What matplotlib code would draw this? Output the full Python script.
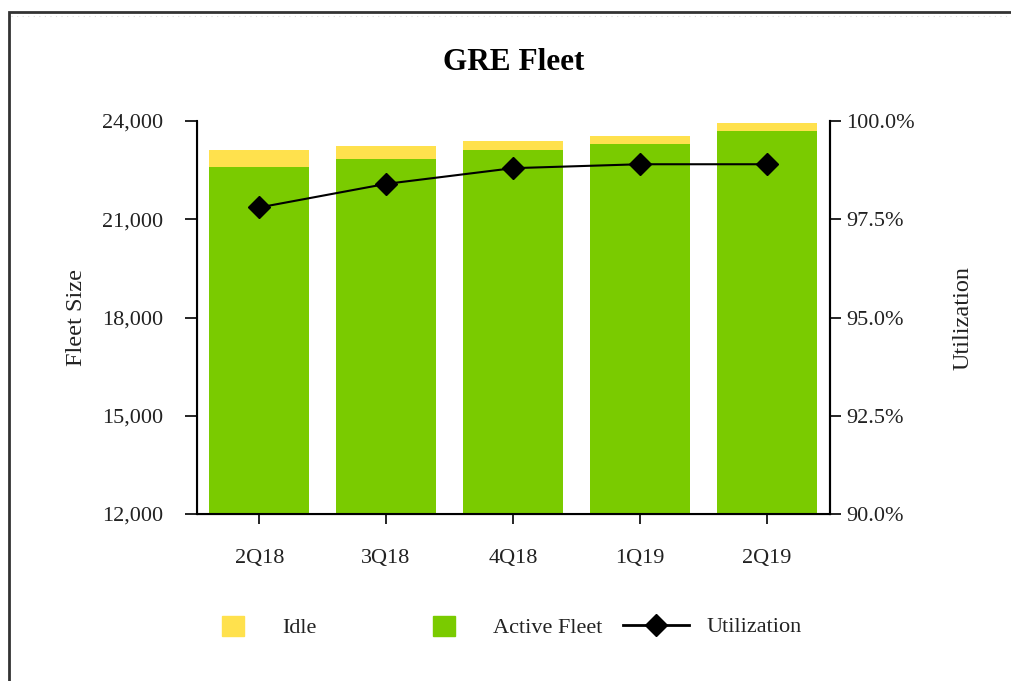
import matplotlib.pyplot as plt
from matplotlib.patches import Rectangle, Patch
from matplotlib.lines import Line2D

quarters = ['2Q18', '3Q18', '4Q18', '1Q19', '2Q19']
active_fleet = [22600, 22850, 23110, 23290, 23700]
idle = [530, 390, 290, 240, 250]
utilization = [97.8, 98.4, 98.8, 98.9, 98.9]

left_ticks = [12000, 15000, 18000, 21000, 24000]
left_labels = ['12,000', '15,000', '18,000', '21,000', '24,000']
right_ticks = [90.0, 92.5, 95.0, 97.5, 100.0]
right_labels = ['90.0%', '92.5%', '95.0%', '97.5%', '100.0%']

green = '#7ACB00'
yellow = '#FFE14D'
txt = '#222222'

plt.rcParams['font.family'] = ['Liberation Serif', 'DejaVu Serif']

fig = plt.figure(figsize=(10.12, 6.81), dpi=100)
ax = fig.add_axes([0.1947, 0.2452, 0.6255, 0.5771])

x = list(range(len(quarters)))
ax.bar(x, active_fleet, width=0.79, color=green)
ax.bar(x, idle, width=0.79, bottom=active_fleet, color=yellow)

ax.set_xlim(-0.49, 4.5)
ax.set_ylim(12000, 24000)
ax.set_yticks(left_ticks)
ax.set_yticklabels(left_labels)
ax.set_xticks(x)
ax.set_xticklabels(quarters)
ax.tick_params(axis='y', length=8.6, width=1.2, pad=16, labelsize=16, labelcolor=txt)
ax.tick_params(axis='x', length=7, width=1.2, pad=18, labelsize=16, labelcolor=txt)
ax.spines['top'].set_visible(False)
for s in ['left', 'bottom', 'right']:
    ax.spines[s].set_linewidth(1.5)

ax.set_ylabel('Fleet Size', fontsize=17.5, color=txt, va='center')
ax.yaxis.set_label_coords(-0.19, 0.5)

ax2 = ax.twinx()
ax2.plot(x, utilization, color='black', lw=1.5, marker='D', markersize=11)
ax2.set_ylim(90, 100)
ax2.set_yticks(right_ticks)
ax2.set_yticklabels(right_labels)
ax2.tick_params(axis='y', length=8, width=1.2, pad=3.5, labelsize=16, labelcolor=txt)
ax2.spines['top'].set_visible(False)
ax2.spines['right'].set_linewidth(1.5)
ax2.set_ylabel('Utilization', fontsize=17.5, color=txt, rotation=90, va='center')
ax2.yaxis.set_label_coords(1.21, 0.5)

ax.set_title('GRE Fleet', fontsize=22.5, fontweight='bold', pad=37)

# legend, one entry per box so each keeps its own spacing
leg_y = 1 - 627 / 681
common = dict(loc='center left', frameon=False, fontsize=16, borderpad=0,
              borderaxespad=0, labelcolor=txt)
fig.legend(handles=[Patch(color=yellow, label='Idle')],
           bbox_to_anchor=(222 / 1012, leg_y), handlelength=1.0,
           handleheight=1.0, handletextpad=1.7, **common)
fig.legend(handles=[Patch(color=green, label='Active Fleet')],
           bbox_to_anchor=(433 / 1012, leg_y), handlelength=1.0,
           handleheight=1.0, handletextpad=1.7, **common)
fig.legend(handles=[Line2D([], [], color='black', lw=2, marker='D',
                           markersize=11, label='Utilization')],
           bbox_to_anchor=(623 / 1012, leg_y), handlelength=2.95,
           handletextpad=0.8, **common)

# outer frame (left and top edges visible)
fig.add_artist(Rectangle((9 / 1012, -0.1), 1.2, 1.1 - 12 / 681,
                         transform=fig.transFigure, fill=False,
                         lw=2, ec='#333333'))
fig.add_artist(Line2D([11 / 1012, 1], [1 - 16 / 681, 1 - 16 / 681],
                      transform=fig.transFigure, color='#dddddd',
                      lw=0.8, ls=(0, (1, 4))))

fig.savefig('out.png', dpi=100)
